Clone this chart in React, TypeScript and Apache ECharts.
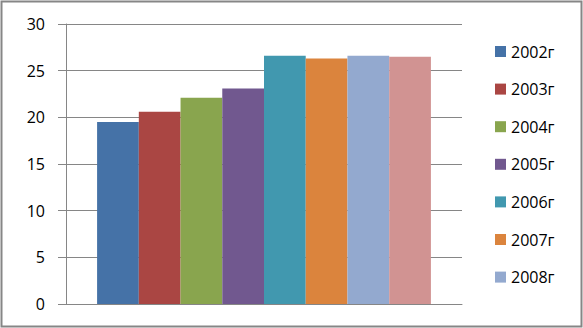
import React, { useEffect, useRef } from "react";
import * as echarts from "echarts";

const seriesNames = ["2002г", "2003г", "2004г", "2005г", "2006г", "2007г", "2008г", "2009г"];
const seriesValues = [19.5, 20.6, 22.1, 23.1, 26.6, 26.3, 26.6, 26.5];
const seriesColors = ["#4572A7", "#AA4643", "#89A54E", "#71588F", "#4198AF", "#DB843D", "#93A9CF", "#D19392"];
const legendNames = ["2002г", "2003г", "2004г", "2005г", "2006г", "2007г", "2008г"];
const categories = [""];

const FONT = "'Open Sans', sans-serif";
const GRAY = "#868686";

export default function App() {
  const ref = useRef<HTMLDivElement>(null);
  useEffect(() => {
    if (!ref.current) return;
    const chart = echarts.init(ref.current, null, { renderer: "svg" });
    chart.setOption({
      animation: false,
      backgroundColor: "#ffffff",
      grid: { left: 66, right: 121, top: 24, bottom: 24, containLabel: false },
      legend: {
        orient: "vertical",
        left: 495,
        top: 43.5,
        padding: 0,
        itemWidth: 11,
        itemHeight: 11,
        itemGap: 21.6,
        icon: "rect",
        data: legendNames,
        textStyle: { fontFamily: FONT, fontSize: 16, color: "#000", lineHeight: 16 },
      },
      xAxis: {
        type: "category",
        data: categories,
        axisLine: { show: true, lineStyle: { color: GRAY, width: 1 } },
        axisTick: { show: false },
        axisLabel: { show: false },
      },
      yAxis: {
        type: "value",
        min: 0,
        max: 30,
        interval: 5,
        axisLine: { show: true, lineStyle: { color: GRAY, width: 1 } },
        axisTick: { show: true, length: 8, lineStyle: { color: GRAY, width: 1 } },
        splitLine: { show: true, lineStyle: { color: GRAY, width: 1 } },
        axisLabel: { margin: 21, fontFamily: FONT, fontSize: 16, color: "#000" },
      },
      series: seriesNames.map((name, i) => ({
        name,
        type: "bar",
        data: [seriesValues[i]],
        barGap: "0%",
        barCategoryGap: "15.7%",
        itemStyle: { color: seriesColors[i] },
      })),
      graphic: [
        {
          type: "rect",
          shape: { x: 1.5, y: 1.5, width: 580, height: 325 },
          style: { fill: "none", stroke: GRAY, lineWidth: 2 },
          silent: true,
        },
      ],
    });
    return () => chart.dispose();
  }, []);
  return (
    <div
      ref={ref}
      style={{ position: "fixed", left: 0, top: 0, width: 583, height: 328 }}
    />
  );
}
